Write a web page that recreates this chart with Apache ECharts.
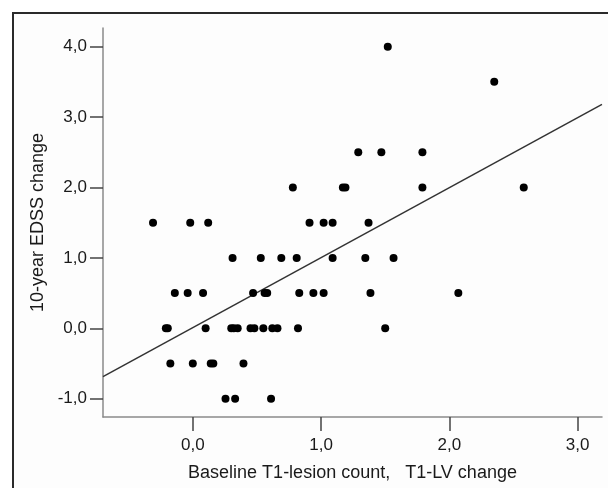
<!DOCTYPE html>
<html>
<head>
<meta charset="utf-8">
<script src="https://cdn.jsdelivr.net/npm/echarts@6/dist/echarts.min.js"></script>
<style>
html,body{margin:0;padding:0;background:#ffffff;}
#chart{width:608px;height:488px;}
</style>
</head>
<body>
<div id="chart"></div>
<script>
// Scatter data: Baseline T1-lesion count / T1-LV change (x) vs 10-year EDSS change (y)
var xValues = [
  1.52,
  2.35,
  1.29, 1.47, 1.79,
  0.78, 1.17, 1.19, 1.79, 2.58,
  -0.31, -0.02, 0.12, 0.91, 1.02, 1.09, 1.37,
  0.31, 0.53, 0.69, 0.81, 1.09, 1.345, 1.565,
  -0.14, -0.04, 0.08, 0.47, 0.56, 0.58, 0.83, 0.94, 1.02, 1.385, 2.07,
  -0.21, -0.195, 0.10, 0.30, 0.32, 0.35, 0.45, 0.48, 0.55, 0.62, 0.66, 0.82, 1.50,
  -0.175, 0.0, 0.14, 0.16, 0.395,
  0.255, 0.33, 0.61
];
var yValues = [
  4.0,
  3.5,
  2.5, 2.5, 2.5,
  2.0, 2.0, 2.0, 2.0, 2.0,
  1.5, 1.5, 1.5, 1.5, 1.5, 1.5, 1.5,
  1.0, 1.0, 1.0, 1.0, 1.0, 1.0, 1.0,
  0.5, 0.5, 0.5, 0.5, 0.5, 0.5, 0.5, 0.5, 0.5, 0.5, 0.5,
  0.0, 0.0, 0.0, 0.0, 0.0, 0.0, 0.0, 0.0, 0.0, 0.0, 0.0, 0.0, 0.0,
  -0.5, -0.5, -0.5, -0.5, -0.5,
  -1.0, -1.0, -1.0
];
// Fit line end points
var fitX = [-0.70, 3.19];
var fitY = [-0.686, 3.18];
// Tick labels
var xTicks = [0, 1, 2, 3];
var yTicks = [-1, 0, 1, 2, 3, 4];
var xTitle = 'Baseline T1-lesion count,   T1-LV change';
var yTitle = '10-year EDSS change';

function fmt(v){ return v.toFixed(1).replace('.', ','); }

var scatterData = xValues.map(function(x, i){ return [x, yValues[i]]; });
var lineData = fitX.map(function(x, i){ return [x, fitY[i]]; });

var font = 'Liberation Sans, Arial, sans-serif';
var chart = echarts.init(document.getElementById('chart'), null, {renderer: 'canvas'});
chart.setOption({
  animation: false,
  backgroundColor: '#ffffff',
  graphic: [{
    type: 'rect',
    shape: {x: 13, y: 13, width: 700, height: 600},
    style: {fill: '#fdfdfd', stroke: '#2a2a2a', lineWidth: 2},
    z: -10
  }],
  grid: {left: 103, top: 28, right: 6, bottom: 71, containLabel: false},
  xAxis: {
    type: 'value',
    min: -0.70, max: 3.19,
    splitLine: {show: false},
    axisLine: {show: true, onZero: false, lineStyle: {color: '#8a8a8a', width: 1.5}},
    axisTick: {show: true, length: 14, customValues: xTicks, lineStyle: {color: '#444', width: 1.5}},
    axisLabel: {customValues: xTicks, formatter: fmt, margin: 20, fontSize: 17, color: '#1a1a1a', fontFamily: font},
    name: xTitle, nameLocation: 'middle', nameGap: 47,
    nameTextStyle: {fontSize: 18, color: '#1a1a1a', fontFamily: font}
  },
  yAxis: {
    type: 'value',
    min: -1.26, max: 4.265,
    splitLine: {show: false},
    axisLine: {show: true, onZero: false, lineStyle: {color: '#8a8a8a', width: 1.5}},
    axisTick: {show: true, length: 13, customValues: yTicks, lineStyle: {color: '#444', width: 1.5}},
    axisLabel: {customValues: yTicks, formatter: fmt, margin: 16, fontSize: 17, color: '#1a1a1a', fontFamily: font},
    name: yTitle, nameLocation: 'middle', nameGap: 53,
    nameTextStyle: {fontSize: 18, color: '#1a1a1a', fontFamily: font}
  },
  series: [{
    type: 'line',
    data: lineData,
    showSymbol: false,
    symbol: 'none',
    lineStyle: {color: '#333', width: 1.5},
    z: 1,
    silent: true
  }, {
    type: 'scatter',
    data: scatterData,
    symbol: 'circle',
    symbolSize: 8,
    itemStyle: {color: '#000', opacity: 1},
    z: 2
  }]
});
</script>
</body>
</html>
